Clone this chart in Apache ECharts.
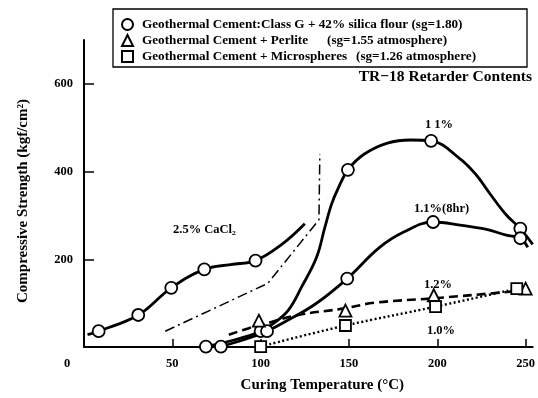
<!DOCTYPE html>
<html>
<head>
<meta charset="utf-8">
<script src="https://cdn.jsdelivr.net/npm/echarts@6/dist/echarts.min.js"></script>
<style>html,body{margin:0;padding:0;background:#fff}#c{width:538px;height:398px}</style>
</head>
<body>
<div id="c"></div>
<script>
// ---- data (temperature °C, strength kgf/cm2) ----
const xTickLabels = [0, 50, 100, 150, 200, 250];
const xTickMarks = [50, 100, 150, 200, 250];
const yTickLabels = [200, 400, 600];

const legendNames = [
  'Geothermal Cement:Class G + 42% silica flour (sg=1.80)',
  'Geothermal Cement + Perlite (sg=1.55 atmosphere)',
  'Geothermal Cement + Microspheres (sg=1.26 atmosphere)'
];

// 2.5% CaCl2 curve (class G)
const cacl2Curve = [[2,28],[8.3,36],[30.7,73],[49.4,135],[68.1,177],[83,188],[97.1,197],[112,234],[125,281]];
const cacl2Markers = [[8.3,36],[30.7,73],[49.4,135],[68.1,177],[97.1,197]];
// dash-dot reference line
const dashDotLine = [[46,36],[104,145],[133,290],[133.5,440]];
// 1.1% retarder curve (class G)
const r11Curve = [[69,1],[85,16],[100,36],[108,56],[115.7,84],[123.2,137],[131.6,204],[136.3,272],[140,324],[143.8,361],[149.4,404],[158.7,440],[171.8,465],[184.9,472],[196.5,470],[212.9,429],[222.3,391],[229.7,350],[239.1,301],[247,270],[254,234]];
const r11Markers = [[69,1],[100,36],[149.4,404],[196.5,470],[247,270]];
// 1.1% (8hr) curve (class G)
const r11h8Curve = [[77.5,1],[90,16],[103.6,36],[114,58],[131,98],[149,156],[167,226],[181,262],[197.6,285],[212.9,278],[227.9,268],[239,255],[247,248],[251.2,227]];
const r11h8Markers = [[77.5,1],[103.6,36],[149,156],[197.6,285],[247,248]];
// Perlite 1.2%
const perliteCurve = [[82,28],[93.4,43],[99,49],[121.4,73],[147.5,88],[164.3,101],[197.9,111],[240.9,126],[247,129]];
const perliteMarkers = [[99,60],[148,83],[198,118],[250,133]];
// Microspheres 1.0%
const microCurve = [[100,1],[148,49],[199,92],[245,133]];
const microMarkers = [[100,1],[148,49],[199,92],[245,133]];

const FONT = '"Liberation Serif", "Times New Roman", serif';
const chart = echarts.init(document.getElementById('c'), null, {renderer: 'canvas'});

function lineSeries(data, type, width, smooth) {
  return {
    type: 'line', data: data, showSymbol: false, symbol: 'none', smooth: smooth,
    lineStyle: {color: '#000', width: width, type: type}, silent: true, z: 2, animation: false
  };
}
function markerSeries(name, data, symbol, size) {
  return {
    type: 'scatter', name: name, data: data, symbol: symbol, symbolSize: size,
    itemStyle: {color: '#fff', borderColor: '#000', borderWidth: 1.8, opacity: 1}, z: 5, animation: false
  };
}

const txt = (s, x, y, size, align) => ({
  type: 'text', x: x, y: y, z: 10,
  style: {text: s, fill: '#000', font: 'bold ' + size + 'px ' + FONT, textAlign: align || 'center', textVerticalAlign: 'middle'}
});

const legendRich = {
  t: {color: '#000', fontFamily: FONT, fontWeight: 'bold', fontSize: 13.2},
  a2: {color: '#000', fontFamily: FONT, fontWeight: 'bold', fontSize: 13.2, width: 185},
  a3: {color: '#000', fontFamily: FONT, fontWeight: 'bold', fontSize: 13.2, width: 214}
};

chart.setOption({
  animation: false,
  backgroundColor: '#fff',
  grid: {left: 84, right: 1, top: 40, bottom: 47, containLabel: false},
  xAxis: {
    type: 'value', min: 0, max: 254,
    name: 'Curing Temperature (°C)', nameLocation: 'middle', nameGap: 31,
    nameTextStyle: {color: '#000', fontFamily: FONT, fontWeight: 'bold', fontSize: 15, padding: [0, 0, 0, 28]},
    axisLine: {show: true, onZero: false, lineStyle: {color: '#000', width: 2}},
    axisTick: {show: true, inside: true, length: 8, lineStyle: {color: '#000', width: 1.5}, customValues: xTickMarks},
    axisLabel: {
      customValues: xTickLabels, color: '#000', fontFamily: FONT, fontWeight: 'bold', fontSize: 12.5, margin: 10,
      formatter: v => v === 0 ? '{z|0}' : String(v),
      rich: {z: {padding: [0, 34, 0, 0], color: '#000', fontFamily: FONT, fontWeight: 'bold', fontSize: 12.5}}
    },
    splitLine: {show: false}
  },
  yAxis: {
    type: 'value', min: 0, max: 700,
    name: 'Compressive Strength (kgf/cm²)', nameLocation: 'middle', nameGap: 53,
    nameTextStyle: {color: '#000', fontFamily: FONT, fontWeight: 'bold', fontSize: 15, padding: [0, 15, 0, 0]},
    axisLine: {show: true, onZero: false, lineStyle: {color: '#000', width: 2}},
    axisTick: {show: true, inside: true, length: 10, lineStyle: {color: '#000', width: 1.5}, customValues: yTickLabels},
    axisLabel: {customValues: yTickLabels, color: '#000', fontFamily: FONT, fontWeight: 'bold', fontSize: 12.5, margin: 11},
    splitLine: {show: false}
  },
  legend: {
    show: true, orient: 'vertical', left: 121, top: 17, padding: 0, itemGap: 1,
    itemWidth: 11, itemHeight: 11, selectedMode: false,
    data: legendNames,
    formatter: function (name) {
      const i = legendNames.indexOf(name);
      const k = name.indexOf(' (sg=');
      if (i === 1) return '{a2|' + name.slice(0, k) + '}{t|' + name.slice(k + 1) + '}';
      if (i === 2) return '{a3|' + name.slice(0, k) + '}{t|' + name.slice(k + 1) + '}';
      return '{t|' + name + '}';
    },
    textStyle: {color: '#000', fontFamily: FONT, fontWeight: 'bold', fontSize: 13.2, lineHeight: 15, padding: [0, 0, 0, 4], rich: legendRich}
  },
  graphic: [
    {type: 'rect', z: 0, shape: {x: 113, y: 9, width: 414, height: 58}, style: {fill: 'transparent', stroke: '#000', lineWidth: 1.3}},
    txt('TR−18 Retarder Contents', 532, 77, 15.5, 'right'),
    txt('2.5% CaCl₂', 173, 230, 12.5, 'left'),
    txt('1 1%', 439, 125, 12.5),
    txt('1.1%(8hr)', 441.5, 209, 12.5),
    txt('1.2%', 438, 285, 12.5),
    txt('1.0%', 441, 331, 12.5)
  ],
  series: [
    lineSeries(cacl2Curve, 'solid', 2.8, 0.4),
    lineSeries(dashDotLine, [10, 4, 2, 4], 1.5, false),
    lineSeries(r11Curve, 'solid', 2.8, 0.4),
    lineSeries(r11h8Curve, 'solid', 2.8, 0.4),
    lineSeries(perliteCurve, [9, 5], 2.6, 0.4),
    lineSeries(microCurve, [2, 2.5], 2.4, 0.4),
    markerSeries(legendNames[0], cacl2Markers, 'circle', 12),
    markerSeries(legendNames[0], r11Markers, 'circle', 12),
    markerSeries(legendNames[0], r11h8Markers, 'circle', 12),
    markerSeries(legendNames[1], perliteMarkers, 'triangle', 12),
    markerSeries(legendNames[2], microMarkers, 'rect', 11)
  ]
});
</script>
</body>
</html>
